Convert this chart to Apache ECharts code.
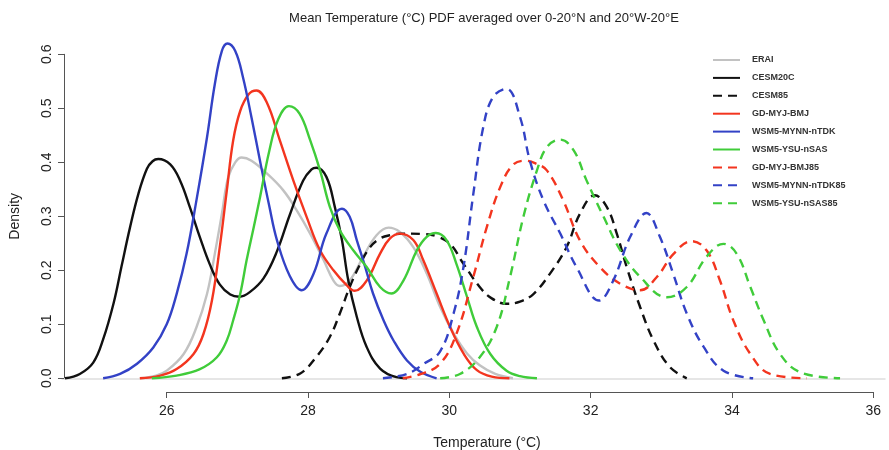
<!DOCTYPE html>
<html><head><meta charset="utf-8">
<script src="https://cdn.jsdelivr.net/npm/echarts/dist/echarts.min.js"></script>
<style>html,body{margin:0;padding:0;background:#fff}#c{width:889px;height:450px}</style>
</head><body><div id="c"></div>
<script>
// ---- data: [temperature (°C), density] ----
const erai = [[25.62,0],[25.85,0.005],[26.0,0.014],[26.24,0.045],[26.42,0.094],[26.57,0.156],[26.68,0.23],[26.78,0.304],[26.87,0.372],[26.97,0.4],[27.06,0.409],[27.2,0.403],[27.42,0.379],[27.65,0.348],[27.84,0.311],[28.03,0.268],[28.22,0.219],[28.36,0.181],[28.45,0.171],[28.59,0.181],[28.78,0.225],[28.97,0.265],[29.14,0.279],[29.3,0.271],[29.49,0.243],[29.68,0.194],[29.87,0.132],[30.06,0.083],[30.25,0.046],[30.43,0.024],[30.65,0.008],[30.9,0]];
const cesm20c = [[24.56,0],[24.77,0.008],[24.96,0.029],[25.1,0.072],[25.25,0.14],[25.36,0.207],[25.48,0.279],[25.6,0.342],[25.72,0.388],[25.8,0.402],[25.88,0.406],[26.05,0.396],[26.19,0.366],[26.33,0.316],[26.47,0.261],[26.61,0.211],[26.75,0.174],[26.9,0.155],[27.03,0.151],[27.18,0.16],[27.37,0.185],[27.56,0.235],[27.74,0.302],[27.93,0.366],[28.05,0.387],[28.12,0.39],[28.26,0.373],[28.38,0.317],[28.48,0.256],[28.57,0.181],[28.69,0.114],[28.83,0.058],[29.02,0.018],[29.25,0.002],[29.4,0]];
const cesm85 = [[27.63,0],[27.89,0.009],[28.12,0.04],[28.31,0.077],[28.45,0.12],[28.59,0.169],[28.74,0.212],[28.88,0.243],[29.02,0.259],[29.16,0.265],[29.35,0.268],[29.63,0.267],[29.82,0.263],[30.01,0.249],[30.2,0.212],[30.43,0.169],[30.6,0.148],[30.81,0.138],[31.0,0.142],[31.19,0.156],[31.42,0.193],[31.66,0.243],[31.85,0.305],[32.06,0.339],[32.23,0.317],[32.37,0.268],[32.51,0.206],[32.7,0.132],[32.89,0.07],[33.12,0.021],[33.36,0]];
const gdMyjBmj = [[25.62,0],[25.91,0.005],[26.14,0.017],[26.38,0.045],[26.52,0.082],[26.64,0.144],[26.75,0.242],[26.85,0.347],[26.94,0.44],[27.04,0.495],[27.16,0.526],[27.27,0.533],[27.42,0.51],[27.6,0.441],[27.79,0.367],[27.98,0.299],[28.17,0.237],[28.36,0.2],[28.55,0.172],[28.66,0.162],[28.83,0.181],[29.02,0.231],[29.16,0.259],[29.3,0.268],[29.49,0.256],[29.63,0.219],[29.82,0.157],[30.01,0.095],[30.2,0.046],[30.39,0.015],[30.6,0.003],[30.85,0]];
const wsmMynn = [[25.1,0],[25.34,0.008],[25.58,0.027],[25.81,0.057],[26.0,0.1],[26.14,0.156],[26.28,0.23],[26.42,0.329],[26.57,0.446],[26.68,0.544],[26.78,0.606],[26.86,0.62],[26.97,0.606],[27.08,0.557],[27.2,0.483],[27.32,0.403],[27.45,0.32],[27.56,0.256],[27.74,0.19],[27.91,0.163],[28.08,0.194],[28.26,0.268],[28.48,0.314],[28.59,0.299],[28.69,0.256],[28.81,0.206],[28.92,0.157],[29.07,0.107],[29.21,0.07],[29.4,0.033],[29.59,0.012],[29.82,0]];
const wsmYsu = [[25.79,0],[26.14,0.005],[26.47,0.017],[26.71,0.039],[26.85,0.07],[26.94,0.107],[27.04,0.156],[27.13,0.218],[27.23,0.279],[27.32,0.335],[27.45,0.42],[27.58,0.48],[27.73,0.504],[27.88,0.49],[28.03,0.441],[28.17,0.385],[28.31,0.317],[28.45,0.274],[28.64,0.237],[28.83,0.206],[29.02,0.169],[29.18,0.157],[29.35,0.181],[29.54,0.237],[29.68,0.262],[29.81,0.269],[29.96,0.256],[30.1,0.212],[30.25,0.151],[30.39,0.095],[30.58,0.045],[30.81,0.014],[31.0,0.004],[31.24,0]];
const gdMyjBmj85 = [[29.34,0],[29.6,0.008],[29.87,0.027],[30.1,0.082],[30.34,0.188],[30.53,0.28],[30.72,0.354],[30.9,0.395],[31.07,0.403],[31.22,0.398],[31.38,0.385],[31.61,0.33],[31.85,0.255],[32.13,0.206],[32.42,0.175],[32.7,0.163],[32.94,0.188],[33.17,0.23],[33.43,0.254],[33.64,0.237],[33.83,0.181],[34.02,0.107],[34.26,0.045],[34.54,0.008],[35.06,0]];
const wsmMynn85 = [[29.06,0],[29.4,0.008],[29.63,0.026],[29.87,0.05],[30.06,0.12],[30.2,0.206],[30.34,0.342],[30.48,0.465],[30.62,0.521],[30.81,0.536],[31.0,0.484],[31.14,0.403],[31.33,0.33],[31.57,0.268],[31.8,0.206],[32.12,0.144],[32.32,0.181],[32.56,0.262],[32.79,0.306],[32.98,0.262],[33.17,0.193],[33.36,0.12],[33.6,0.058],[33.88,0.014],[34.3,0]];
const wsmYsu85 = [[29.87,0],[30.15,0.008],[30.43,0.039],[30.67,0.095],[30.86,0.188],[31.05,0.30],[31.24,0.385],[31.38,0.428],[31.57,0.442],[31.76,0.422],[31.94,0.367],[32.18,0.30],[32.42,0.237],[32.7,0.188],[33.08,0.15],[33.36,0.169],[33.64,0.225],[33.88,0.249],[34.07,0.23],[34.26,0.169],[34.45,0.107],[34.68,0.045],[34.97,0.011],[35.53,0]];

const seriesNames = ['ERAI','CESM20C','CESM85','GD-MYJ-BMJ','WSM5-MYNN-nTDK','WSM5-YSU-nSAS','GD-MYJ-BMJ85','WSM5-MYNN-nTDK85','WSM5-YSU-nSAS85'];
const seriesData = [erai, cesm20c, cesm85, gdMyjBmj, wsmMynn, wsmYsu, gdMyjBmj85, wsmMynn85, wsmYsu85];
const xTicks = [26, 28, 30, 32, 34, 36];
const yTicks = [0, 0.1, 0.2, 0.3, 0.4, 0.5, 0.6];

const titleText = 'Mean Temperature (°C) PDF averaged over 0-20°N and 20°W-20°E';
const xTitle = 'Temperature (°C)';
const yTitle = 'Density';

// ---- styles ----
const colors = ['#c2c2c2','#111111','#111111','#f3351f','#3342c6','#40cc3a','#f3351f','#3342c6','#40cc3a'];
const dashed = [false,false,true,false,false,false,true,true,true];
const FONT = 'Liberation Sans, Arial, sans-serif';

const chart = echarts.init(document.getElementById('c'), null, {renderer:'canvas'});
const option = {
  backgroundColor: '#fff',
  animation: false,
  title: [
    {text: titleText, left: 479, top: 7, textAlign: 'center',
     textStyle: {fontFamily: FONT, fontSize: 13, fontWeight: 'normal', color: '#222'}},
    {text: xTitle, left: 482, top: 431, textAlign: 'center',
     textStyle: {fontFamily: FONT, fontSize: 14, fontWeight: 'normal', color: '#222'}}
  ],
  legend: {
    orient: 'vertical', left: 707, top: 50, itemWidth: 27, itemHeight: 10, itemGap: 7.9,
    data: seriesNames,
    itemStyle: {opacity: 0},
    textStyle: {fontFamily: FONT, fontSize: 9, fontWeight: 'bold', color: '#333', lineHeight: 10, padding: [0,0,0,7]}
  },
  grid: [
    {left: 62, right: 4, top: 40, bottom: 58},
    {left: 166.7, right: 15.7, top: 391, bottom: 58},
    {left: 64, width: 1, top: 54.3, bottom: 71.7}
  ],
  xAxis: [
    {gridIndex: 0, type: 'value', min: 24.518, max: 36.166,
     axisLine: {show: true, onZero: true, lineStyle: {color: '#dedede', width: 1.5}},
     axisTick: {show: false}, axisLabel: {show: false}, splitLine: {show: false}},
    {gridIndex: 1, type: 'value', min: xTicks[0], max: xTicks[xTicks.length-1], interval: 2,
     axisLine: {show: true, onZero: false, lineStyle: {color: '#555', width: 1}},
     axisTick: {show: true, length: 6, lineStyle: {color: '#555'}},
     axisLabel: {show: true, margin: 12, fontFamily: FONT, fontSize: 14, color: '#222'},
     splitLine: {show: false}},
    {gridIndex: 2, type: 'value', show: false, min: 0, max: 1}
  ],
  yAxis: [
    {gridIndex: 0, type: 'value', min: -0.0254, max: 0.6265, show: false, splitLine: {show: false}},
    {gridIndex: 1, type: 'value', show: false, min: 0, max: 1},
    {gridIndex: 2, type: 'value', min: yTicks[0], max: yTicks[yTicks.length-1], interval: 0.1,
     name: yTitle, nameLocation: 'middle', nameGap: 42,
     nameTextStyle: {fontFamily: FONT, fontSize: 14, color: '#222'},
     axisLine: {show: true, onZero: false, lineStyle: {color: '#555', width: 1}},
     axisTick: {show: true, length: 6, lineStyle: {color: '#555'}},
     axisLabel: {show: true, rotate: 90, margin: 10, fontFamily: FONT, fontSize: 14, color: '#222',
       formatter: v => v.toFixed(1)},
     splitLine: {show: false}}
  ],
  series: seriesNames.map((n, i) => ({
    name: n, type: 'line', xAxisIndex: 0, yAxisIndex: 0,
    data: seriesData[i], smooth: 0.4, showSymbol: false, symbol: 'none',
    color: colors[i],
    lineStyle: {color: colors[i], width: 2.4, type: dashed[i] ? [9, 6] : 'solid'},
    z: 2 + i
  }))
};
chart.setOption(option);
</script></body></html>
